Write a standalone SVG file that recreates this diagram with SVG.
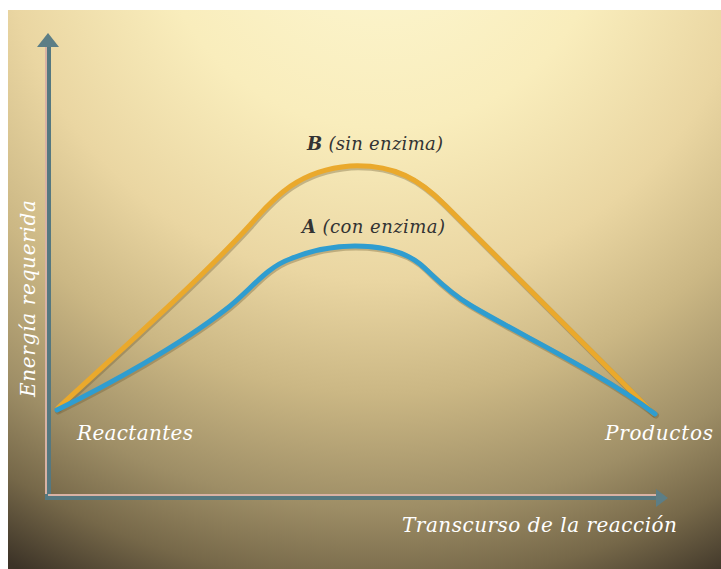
<svg xmlns="http://www.w3.org/2000/svg" width="721" height="569" viewBox="0 0 721 569">
  <defs>
    <radialGradient id="bg" gradientUnits="userSpaceOnUse" cx="380" cy="-100" r="760">
      <stop offset="0" stop-color="#fdf8d4"/>
      <stop offset="0.3" stop-color="#f9edbc"/>
      <stop offset="0.5" stop-color="#ead6a2"/>
      <stop offset="0.65" stop-color="#cbb784"/>
      <stop offset="0.8" stop-color="#9e8e66"/>
      <stop offset="0.9" stop-color="#766849"/>
      <stop offset="1" stop-color="#3c3327"/>
    </radialGradient>
    <style>
      .axis { stroke: #557880; stroke-width: 6; fill: none; }
      .axhl { stroke: #d8b2a4; stroke-width: 2; fill: none; }
      .head { fill: #5c7e86; }
      .curveA { stroke: #2f9dd0; stroke-width: 5; fill: none; stroke-linecap: round; stroke-linejoin: round; }
      .curveB { stroke: #eaa92c; stroke-width: 5; fill: none; stroke-linecap: round; stroke-linejoin: round; }
      .shadow { stroke: #6a5a30; stroke-opacity: 0.35; stroke-width: 6; fill: none; stroke-linecap: round; }
      .lbl { font-family: "DejaVu Serif", "Liberation Serif", serif; font-style: italic; }
      .dark { fill: #333; font-size: 18px; }
      .white { fill: #fff; font-size: 20px; }
    </style>
  </defs>
  <rect x="0" y="0" width="721" height="569" fill="#ffffff"/>
  <rect x="8" y="10" width="713" height="559" fill="url(#bg)"/>

  <g id="connectors">
    <g id="y-axis">
      <line class="axis" x1="48" y1="44" x2="48" y2="500"/>
      <line class="axhl" x1="46" y1="46" x2="46" y2="496"/>
      <polygon class="head" points="48,33 59,47 37,47"/>
    </g>
    <g id="x-axis">
      <line class="axis" x1="45" y1="497" x2="658" y2="497"/>
      <line class="axhl" x1="48" y1="495" x2="656" y2="495"/>
      <polygon class="head" points="668,498 656,489 656,507"/>
    </g>
    <g id="curve-B">
      <path class="shadow" transform="translate(1,1.5)" d="M58,408 C110,360 200,280 250,225 C275,196 300,170 350,166 C395,164 420,180 445,205 L653,413"/>
      <path class="curveB" d="M58,408 C110,360 200,280 250,225 C275,196 300,170 350,166 C395,164 420,180 445,205 L653,413"/>
    </g>
    <g id="curve-A">
      <path class="shadow" transform="translate(1,1.5)" d="M57,410 C110,384 180,345 225,310 C250,291 265,268 290,259 C312,250 332,246 355,246 C385,246 405,252 420,264 C432,274 445,290 470,305 C520,335 600,372 655,414"/>
      <path class="curveA" d="M57,410 C110,384 180,345 225,310 C250,291 265,268 290,259 C312,250 332,246 355,246 C385,246 405,252 420,264 C432,274 445,290 470,305 C520,335 600,372 655,414"/>
    </g>
  </g>

  <g id="label-B">
    <text class="lbl dark" x="307" y="150" textLength="136"><tspan font-weight="bold">B</tspan> (sin enzima)</text>
  </g>
  <g id="label-A">
    <text class="lbl dark" x="302" y="233" textLength="143"><tspan font-weight="bold">A</tspan> (con enzima)</text>
  </g>
  <g id="reactantes">
    <text class="lbl white" x="77" y="440" textLength="116">Reactantes</text>
  </g>
  <g id="productos">
    <text class="lbl white" x="605" y="440" textLength="108">Productos</text>
  </g>
  <g id="x-label">
    <text class="lbl white" x="402" y="532" textLength="275">Transcurso de la reacción</text>
  </g>
  <g id="y-label">
    <text class="lbl white" transform="translate(35,397) rotate(-90)" textLength="197">Energía requerida</text>
  </g>
</svg>
